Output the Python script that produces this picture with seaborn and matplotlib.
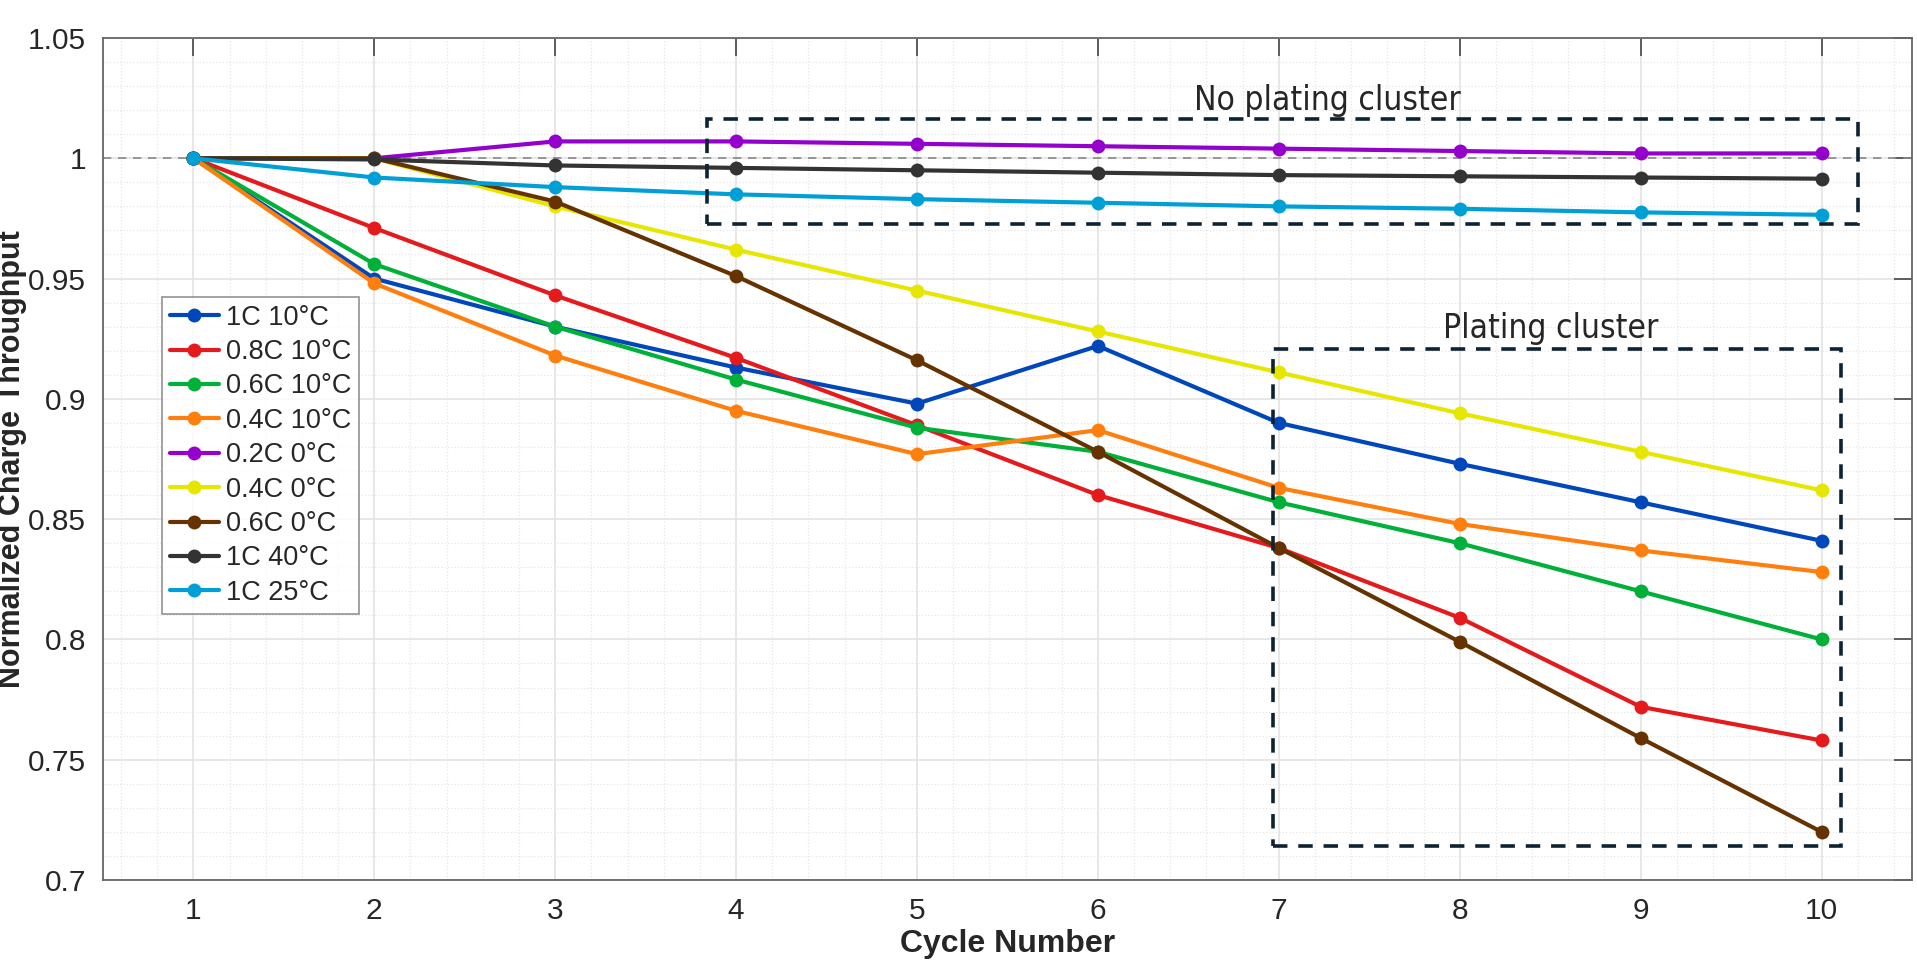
import numpy as np
import pandas as pd
import seaborn as sns
import matplotlib.pyplot as plt
from matplotlib.ticker import MultipleLocator
from matplotlib.patches import Rectangle

# data
cycles = [1, 2, 3, 4, 5, 6, 7, 8, 9, 10]
c1_10 = [1.0, 0.950, 0.930, 0.913, 0.898, 0.922, 0.890, 0.873, 0.857, 0.841]
c08_10 = [1.0, 0.971, 0.943, 0.917, 0.889, 0.860, 0.838, 0.809, 0.772, 0.758]
c06_10 = [1.0, 0.956, 0.930, 0.908, 0.888, 0.878, 0.857, 0.840, 0.820, 0.800]
c04_10 = [1.0, 0.948, 0.918, 0.895, 0.877, 0.887, 0.863, 0.848, 0.837, 0.828]
c02_0 = [1.0, 1.0, 1.007, 1.007, 1.006, 1.005, 1.004, 1.003, 1.002, 1.002]
c04_0 = [1.0, 1.0, 0.980, 0.962, 0.945, 0.928, 0.911, 0.894, 0.878, 0.862]
c06_0 = [1.0, 1.0, 0.982, 0.951, 0.916, 0.878, 0.838, 0.799, 0.759, 0.720]
c1_40 = [1.0, 0.9995, 0.997, 0.996, 0.995, 0.994, 0.993, 0.9925, 0.992, 0.9915]
c1_25 = [1.0, 0.992, 0.988, 0.985, 0.983, 0.9815, 0.980, 0.979, 0.9775, 0.9765]

labels = ["1C 10°C", "0.8C 10°C", "0.6C 10°C", "0.4C 10°C", "0.2C 0°C",
          "0.4C 0°C", "0.6C 0°C", "1C 40°C", "1C 25°C"]
series = [c1_10, c08_10, c06_10, c04_10, c02_0, c04_0, c06_0, c1_40, c1_25]
colors = ["#0047BB", "#E41A1C", "#00B038", "#FF7F0E", "#9400CC",
          "#E6E600", "#663300", "#333333", "#00A0D6"]

sns.set_style("white")
plt.rcParams['font.family'] = ['Liberation Sans', 'DejaVu Sans']

fig = plt.figure(figsize=(19.17, 9.66), dpi=100)
ax = fig.add_axes([0.0537, 0.089, 0.9437, 0.8717])

ax.axhline(1.0, color="#888888", lw=1.2, ls=(0, (5, 4)), zorder=1)

for lab, vals, col in zip(labels, series, colors):
    sns.lineplot(x=cycles, y=vals, ax=ax, color=col, lw=3.0, marker="o",
                 markersize=10, markeredgewidth=0, label=lab, zorder=3)

# cluster boxes
ax.add_patch(Rectangle((3.84, 0.9725), 6.36, 0.0438, fill=False, ec="#0d2233",
                       lw=2.6, ls=(0, (4, 3)), zorder=4))
ax.add_patch(Rectangle((6.97, 0.7141), 3.14, 0.2066, fill=False, ec="#0d2233",
                       lw=2.6, ls=(0, (4, 3)), zorder=4))
ax.text(7.27, 1.0172, "No plating cluster", fontsize=24, ha="center", va="bottom",
        family="DejaVu Sans", fontstretch="condensed")
ax.text(8.50, 0.9222, "Plating cluster", fontsize=24, ha="center", va="bottom",
        family="DejaVu Sans", fontstretch="condensed")

# axes formatting
ax.set_xlim(0.5, 10.5)
ax.set_ylim(0.7, 1.05)
ax.set_xticks(cycles)
ax.set_yticks([0.7, 0.75, 0.8, 0.85, 0.9, 0.95, 1.0, 1.05])
ax.set_yticklabels(["0.7", "0.75", "0.8", "0.85", "0.9", "0.95", "1", "1.05"])
ax.xaxis.set_minor_locator(MultipleLocator(0.2))
ax.yaxis.set_minor_locator(MultipleLocator(0.01))
ax.grid(which="major", color="#e3e3e3", lw=1.2)
ax.grid(which="minor", color="#e6e6e6", lw=0.9, ls=":")
ax.tick_params(which="major", direction="in", length=13, width=1.2, color="#444444",
               labelsize=21.5, top=True, right=True, pad=12)
ax.tick_params(which="minor", length=0)
for s in ax.spines.values():
    s.set_color("#666666")
    s.set_linewidth(1.3)

ax.set_xlabel("Cycle Number", fontsize=23, fontweight="bold", labelpad=3)
ax.set_ylabel("Normalized Charge Throughput", fontsize=22, fontweight="bold")
ax.yaxis.set_label_coords(-0.042, 0.5)

leg = ax.legend(loc="lower left", bbox_to_anchor=(0.0326, 0.316), fontsize=19.5,
                frameon=True, fancybox=False, edgecolor="#777777", borderaxespad=0,
                handlelength=1.8, borderpad=0.3, labelspacing=0.31, handletextpad=0.25)
leg.get_frame().set_linewidth(1.2)

plt.savefig("out.png", dpi=100)
